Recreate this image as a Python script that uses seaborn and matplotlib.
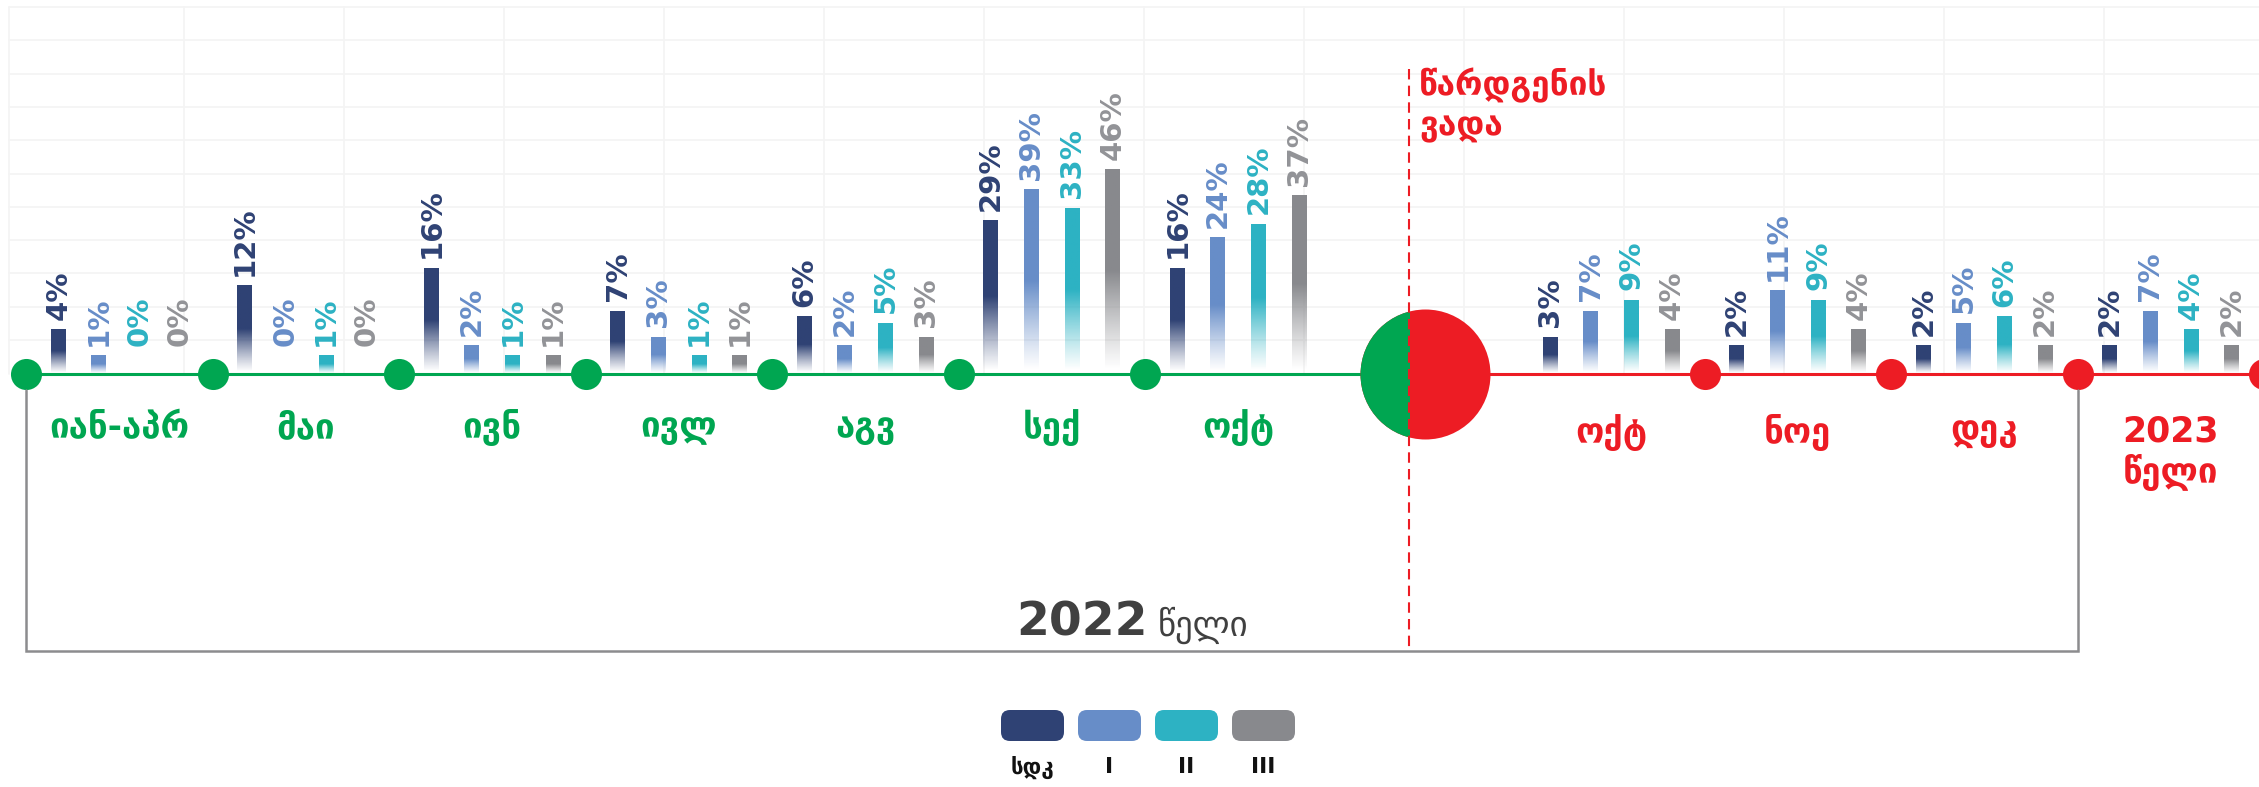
import numpy as np
import pandas as pd
import matplotlib
matplotlib.use('Agg')
import matplotlib.pyplot as plt
import seaborn as sns
from matplotlib.colors import to_rgb
from matplotlib.patches import FancyBboxPatch, Rectangle

# --- data -----------------------------------------------------------------
green_periods = ['იან-აპრ', 'მაი', 'ივნ', 'ივლ', 'აგვ', 'სექ', 'ოქტ']
red_periods = ['ოქტ', 'ნოე', 'დეკ', '2023\nწელი']
series = ['სდკ', 'I', 'II', 'III']
sdk = [4, 12, 16, 7, 6, 29, 16, 3, 2, 2, 2]
tier_1 = [1, 0, 2, 3, 2, 39, 24, 7, 11, 5, 7]
tier_2 = [0, 1, 1, 1, 5, 33, 28, 9, 9, 6, 4]
tier_3 = [0, 0, 1, 1, 3, 46, 37, 4, 4, 2, 2]

bar_colors = ['#2f4274', '#678dc8', '#2db2c3', '#88898d']
text_colors = ['#2f4274', '#678dc8', '#2db2c3', '#929397']
GREEN = '#00a651'
RED = '#ed1c24'
GRAY = '#8c8c8e'

W, H = 2259, 787
BASE_PX = 374          # baseline, pixels from top
PX_PER_UNIT = 19.1     # pixels per unit of the compressed value scale
POW = 0.62             # bar heights follow a compressed (power) scale

sns.set_style('white')
plt.rcParams['font.family'] = ['DejaVu Sans']


def fwd(v):
    v = np.asarray(v, dtype=float)
    return np.sign(v) * np.abs(v) ** POW


def inv(u):
    u = np.asarray(u, dtype=float)
    return np.sign(u) * np.abs(u) ** (1 / POW)


# long table for seaborn
keys = [f'g{i}' for i in range(len(green_periods))] + [f'r{i}' for i in range(len(red_periods))]
order = keys[:len(green_periods)] + ['gap'] + keys[len(green_periods):]
gap_pos = order.index('gap')
df = pd.DataFrame({
    'period': np.tile(keys, len(series)),
    'series': np.repeat(series, len(keys)),
    'value': np.concatenate([sdk, tier_1, tier_2, tier_3]),
})

fig = plt.figure(figsize=(W / 100, H / 100), dpi=100)

# background grid in pixel space
ax_bg = fig.add_axes([0, 0, 1, 1], zorder=0)
ax_bg.set_xlim(0, W)
ax_bg.set_ylim(H, 0)
ax_bg.set_axis_off()
for y in np.arange(7, 345, 33.3):
    ax_bg.plot([9, W], [y, y], color='#f4f4f4', lw=1.2)
for x in [9] + list(np.arange(184, W, 160)):
    ax_bg.plot([x, x], [7, BASE_PX], color='#f4f4f4', lw=1.2)

# bars
ax = fig.add_axes([0, 0, 1, 1], zorder=1)
ax.patch.set_visible(False)
sns.barplot(data=df, x='period', y='value', hue='series', order=order,
            hue_order=series, palette=bar_colors, saturation=1,
            width=0.87, gap=0.63, errorbar=None, legend=False, ax=ax)
ax.set_yscale('function', functions=(fwd, inv))

xlim = (-0.5 - 26 / 186.5, -0.5 + (W - 26) / 186.5)
ylim = (float(inv(-(H - BASE_PX) / PX_PER_UNIT)), float(inv(BASE_PX / PX_PER_UNIT)))

# gradient fill inside each bar, fading to white at the bottom
for cont, col, tcol in zip(ax.containers, bar_colors, text_colors):
    for bar in cont:
        h = bar.get_height()
        x0, w = bar.get_x(), bar.get_width()
        cx = x0 + w / 2
        ax.annotate(f'{h:.0f}%', xy=(cx, max(h, 1)), xytext=(0, 9),
                    textcoords='offset pixels', rotation=90, ha='center',
                    va='bottom', color=tcol, fontsize=21, fontweight='bold')
        bar.set_facecolor('none')
        bar.set_linewidth(0)
        if h <= 0:
            continue
        rows = np.linspace(0, h, 200)
        frac = fwd(rows) / fwd(h)
        img = np.zeros((200, 1, 4))
        img[..., :3] = to_rgb(col)
        img[:, 0, 3] = np.clip(frac / 0.5, 0, 1) ** 1.2
        im = ax.imshow(img, extent=(x0, x0 + w, 0, h), origin='lower',
                       aspect='auto', interpolation='bilinear', zorder=2)
        im.set_clip_path(bar)

ax.set_xlim(*xlim)
ax.set_ylim(*ylim)
ax.set_autoscale_on(False)
ax.set_axis_off()

# timeline
n_green = len(green_periods)
split_x = gap_pos - 0.085
ax.plot([-0.5, split_x], [0, 0], color=GREEN, lw=2.2, zorder=3)
ax.plot([split_x, xlim[1]], [0, 0], color=RED, lw=2.2, zorder=3)
green_dots = np.arange(n_green) - 0.5
red_dots = np.arange(gap_pos + 1, len(order)) + 0.5
ax.scatter(green_dots, np.zeros_like(green_dots), s=500, color=GREEN, lw=0, zorder=4)
ax.scatter(red_dots, np.zeros_like(red_dots), s=500, color=RED, lw=0, zorder=4)
ax.scatter([gap_pos], [0], s=8760, color=RED, lw=0, zorder=4)
half = ax.scatter([gap_pos], [0], s=8760, color=GREEN, lw=0, zorder=5)
half.set_clip_path(Rectangle((xlim[0], 0), split_x - xlim[0], 1,
                             transform=ax.get_xaxis_transform()))

# period labels under the timeline
for i, lab in enumerate(green_periods):
    ax.annotate(lab, xy=(i, 0), xytext=(0, -54), textcoords='offset pixels',
                ha='center', va='center', color=GREEN, fontsize=25, fontweight='bold')
for j, lab in enumerate(red_periods):
    pos = gap_pos + 1 + j
    ax.annotate(lab, xy=(pos, 0), xytext=(0, -40), textcoords='offset pixels',
                ha='center', va='top', color=RED, fontsize=25, fontweight='bold',
                linespacing=1.2)

# foreground annotations in pixel space
ax_fg = fig.add_axes([0, 0, 1, 1], zorder=2)
ax_fg.set_xlim(0, W)
ax_fg.set_ylim(H, 0)
ax_fg.set_axis_off()
ax_fg.patch.set_visible(False)


def to_px(x):
    return ax.transData.transform((x, 1))[0]


split_px = to_px(split_x)
ax_fg.plot([split_px, split_px], [69, 651], color=RED, lw=1.5, dashes=(5, 3))
ax_fg.text(split_px + 10, 105, 'წარდგენის\nვადა', color=RED, fontsize=24,
           fontweight='bold', ha='left', va='center', linespacing=1.25)

left_px, right_px = to_px(green_dots[0]), to_px(red_dots[-2])
ax_fg.plot([left_px, left_px, right_px, right_px], [390, 651, 651, 390],
           color=GRAY, lw=1.8, solid_joinstyle='miter')
ax_fg.text(1148, 636, '2022', color='#404040', fontsize=34, fontweight='bold',
           ha='right', va='baseline')
ax_fg.text(1158, 636, 'წელი', color='#404040', fontsize=25, ha='left', va='baseline')

# legend
for k, (name, col) in enumerate(zip(series, bar_colors)):
    x0 = 1001 + k * 77
    ax_fg.add_patch(FancyBboxPatch((x0, 710), 63, 31, boxstyle='round,pad=0,rounding_size=9',
                                   facecolor=col, edgecolor='none'))
    ax_fg.text(x0 + 31.5, 767, name, color='#111111', fontsize=16, fontweight='bold',
               ha='center', va='center')

fig.savefig('out.png', dpi=100)
